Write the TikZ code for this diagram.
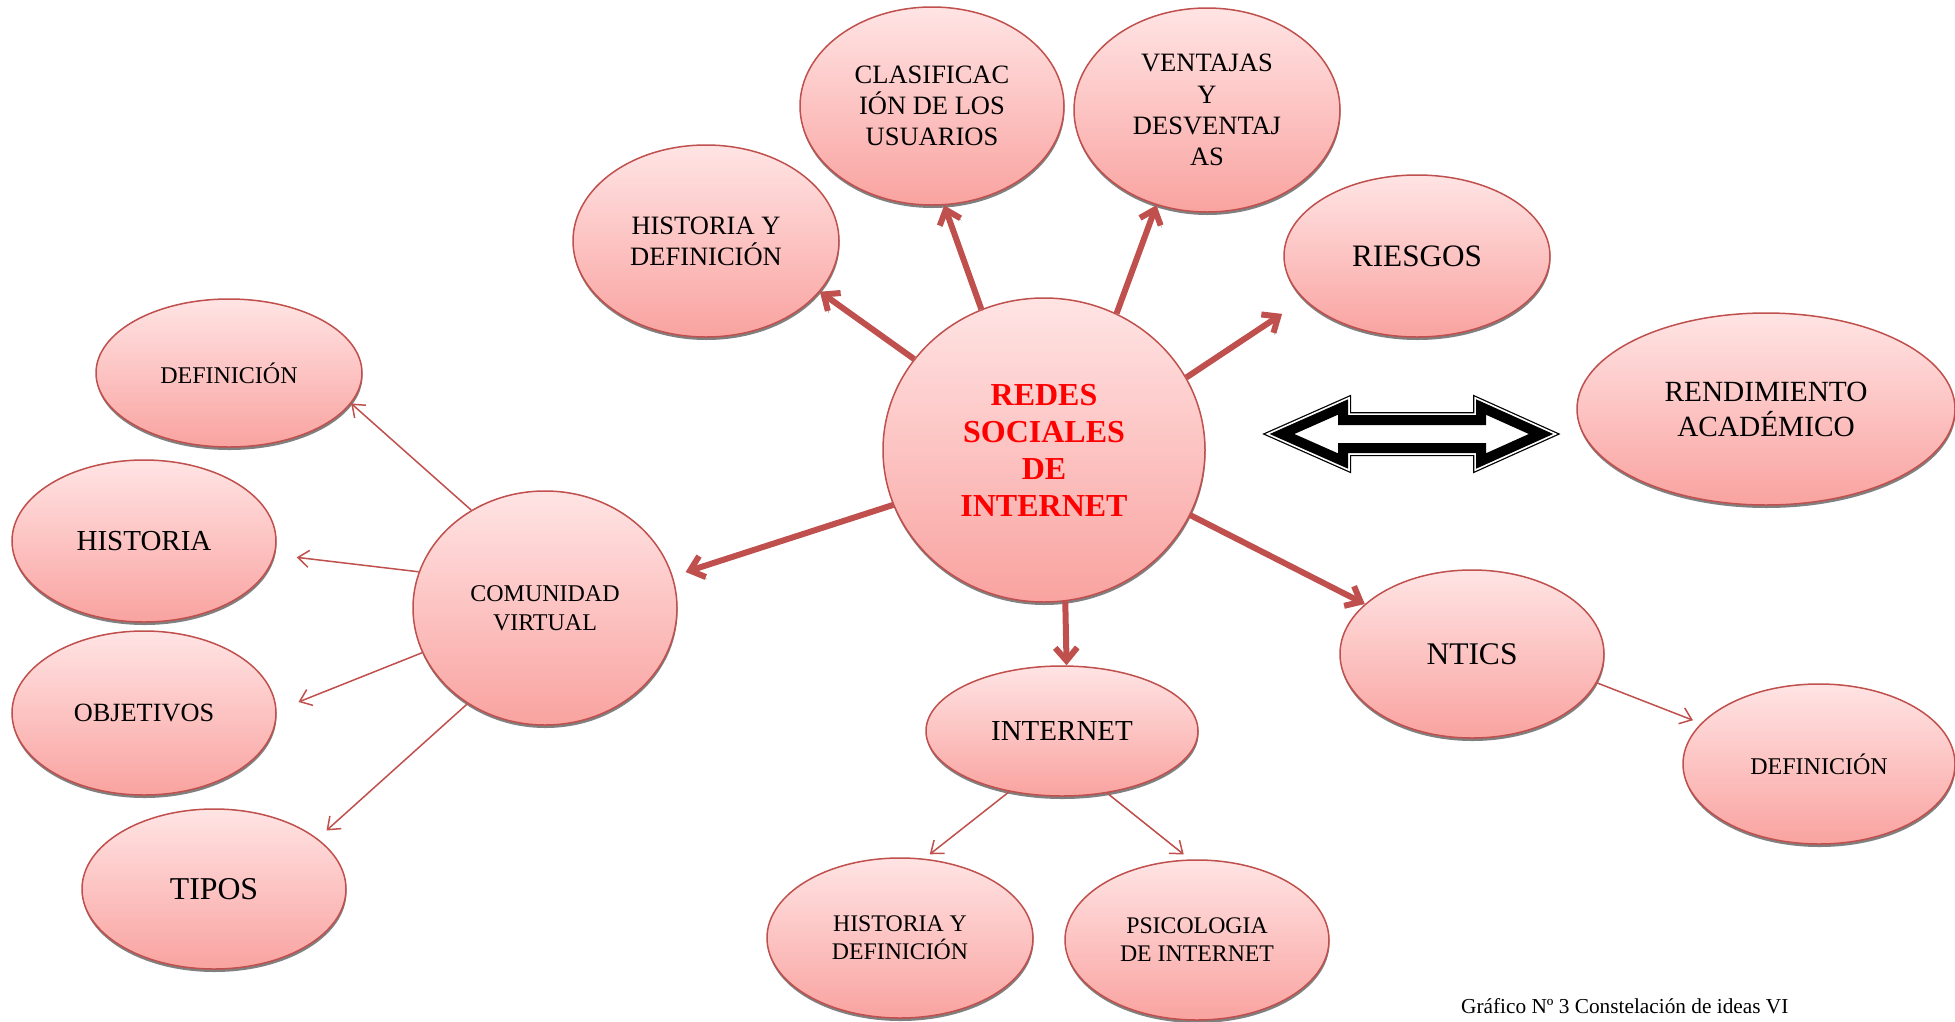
\documentclass[tikz,border=0pt]{standalone}
\usepackage{fontspec}
\setmainfont{Liberation Serif}
\usetikzlibrary{arrows.meta,shapes.geometric}
\definecolor{bord}{RGB}{192,80,77}
\definecolor{ftop}{RGB}{255,228,228}
\definecolor{fbot}{RGB}{249,163,160}
\tikzset{
  bub/.style={ellipse, draw=bord, line width=1.5pt, top color=ftop, bottom color=fbot,
    inner sep=0pt, align=center, text=black, text depth=-5pt,
    preaction={fill=black!50, transform canvas={xshift=0.5pt, yshift=-3pt}}},
  fs/.style 2 args={font=\fontsize{#1}{#2}\selectfont},
  mainarr/.style={draw=bord, line width=6pt, -{Straight Barb[length=13pt,width=22pt]},
    preaction={draw=black!45, transform canvas={xshift=1pt, yshift=-2pt}}},
  subarr/.style={draw=bord, line width=1.5pt, -{Straight Barb[length=11pt,width=17pt]}},
  blk/.style={line join=miter, miter limit=10},
}
\begin{document}
\begin{tikzpicture}[x=1pt, y=-1pt]
\clip (0,0) rectangle (1955,1021);
\fill[white] (0,0) rectangle (1955,1021);

% central node
\node[bub, minimum width=322pt, minimum height=304pt, text=red, font=\fontsize{32}{37}\selectfont\bfseries] (cen) at (1044,450) {REDES\\SOCIALES\\DE\\INTERNET};

% upper ring
\node[bub, minimum width=264pt, minimum height=198pt, fs={26.5}{30.8}] (clas) at (932,106) {CLASIFICAC\\IÓN DE LOS\\USUARIOS};
\node[bub, minimum width=266pt, minimum height=204pt, fs={26.5}{31.3}] (vent) at (1207,110) {VENTAJAS\\Y\\DESVENTAJ\\AS};
\node[bub, minimum width=266pt, minimum height=192pt, fs={26.5}{31}] (histA) at (706,241) {HISTORIA Y\\DEFINICIÓN};
\node[bub, minimum width=266pt, minimum height=162pt, fs={31.2}{36}] (ries) at (1417,256) {RIESGOS};

% right side
\node[bub, minimum width=378pt, minimum height=192pt, fs={29.3}{35}] (rend) at (1766,409) {RENDIMIENTO\\ACADÉMICO};
\node[bub, minimum width=264pt, minimum height=168pt, fs={31.5}{36}] (ntics) at (1472,654) {NTICS};
\node[bub, minimum width=272pt, minimum height=160pt, fs={24}{28}] (defC) at (1819,764) {DEFINICIÓN};

% bottom
\node[bub, minimum width=272pt, minimum height=130pt, fs={29}{33}] (inet) at (1062,731) {INTERNET};
\node[bub, minimum width=266pt, minimum height=160pt, fs={23.8}{28}] (histB) at (900,938) {HISTORIA Y\\DEFINICIÓN};
\node[bub, minimum width=264pt, minimum height=160pt, fs={23.8}{28}] (psico) at (1197,940) {PSICOLOGIA\\DE INTERNET};

% left side
\node[bub, minimum width=264pt, minimum height=234pt, fs={24}{29}] (com) at (545,608) {COMUNIDAD\\VIRTUAL};
\node[bub, minimum width=266pt, minimum height=148pt, fs={24}{28}] (defA) at (229,373) {DEFINICIÓN};
\node[bub, minimum width=264pt, minimum height=162pt, fs={29}{33}] (hist) at (144,541) {HISTORIA};
\node[bub, minimum width=264pt, minimum height=164pt, fs={26.3}{30}] (obj) at (144,713) {OBJETIVOS};
\node[bub, minimum width=264pt, minimum height=160pt, fs={31.8}{36}] (tipos) at (214,889) {TIPOS};

% thick connectors from the centre
\draw[mainarr] (cen.145) -- (histA.336.7);
\draw[mainarr] (cen.114.7) -- (clas.277.3);
\draw[mainarr] (cen.62.6) -- (vent.242.7);
\draw[mainarr, shorten >=26pt] (cen.27) -- (ries.201.4);
\draw[mainarr, shorten >=13.5pt] (cen.200) -- (com.14.1);
\draw[mainarr] (cen.278.2) -- (inet.86.5);
\draw[mainarr] (cen.336.1) -- (ntics.155.4);

% thin connectors
\draw[subarr] (com.127.4) -- (defA.346);
\draw[subarr, shorten >=22pt] (com.164.8) -- (hist.354.3);
\draw[subarr, shorten >=23.5pt] (com.200.2) -- (obj.1);
\draw[subarr, shorten >=12pt] (com.231.2) -- (tipos.26.6);
\draw[subarr, shorten >=7pt] (inet.229.8) -- (histB.73.8);
\draw[subarr, shorten >=8pt] (inet.306.9) -- (psico.95);
\draw[subarr, shorten >=8.5pt] (ntics.347.9) -- (defC.161.4);

% double-headed block arrow
\def\dblarrow{(1282,434) -- (1343,407) -- (1343,420) -- (1481,420) -- (1481,407) -- (1541,434) -- (1481,461) -- (1481,448) -- (1343,448) -- (1343,461) -- cycle}
\draw[blk, black, line width=16pt] \dblarrow;
\filldraw[blk, white, line width=13.5pt] \dblarrow;
\draw[blk, black, line width=10pt] \dblarrow;

% caption
\node[anchor=base west, inner sep=0pt, fs={21.3}{24}] (cap) at (1461,1013) {Gráfico Nº 3 Constelación de ideas VI};
\end{tikzpicture}
\end{document}
